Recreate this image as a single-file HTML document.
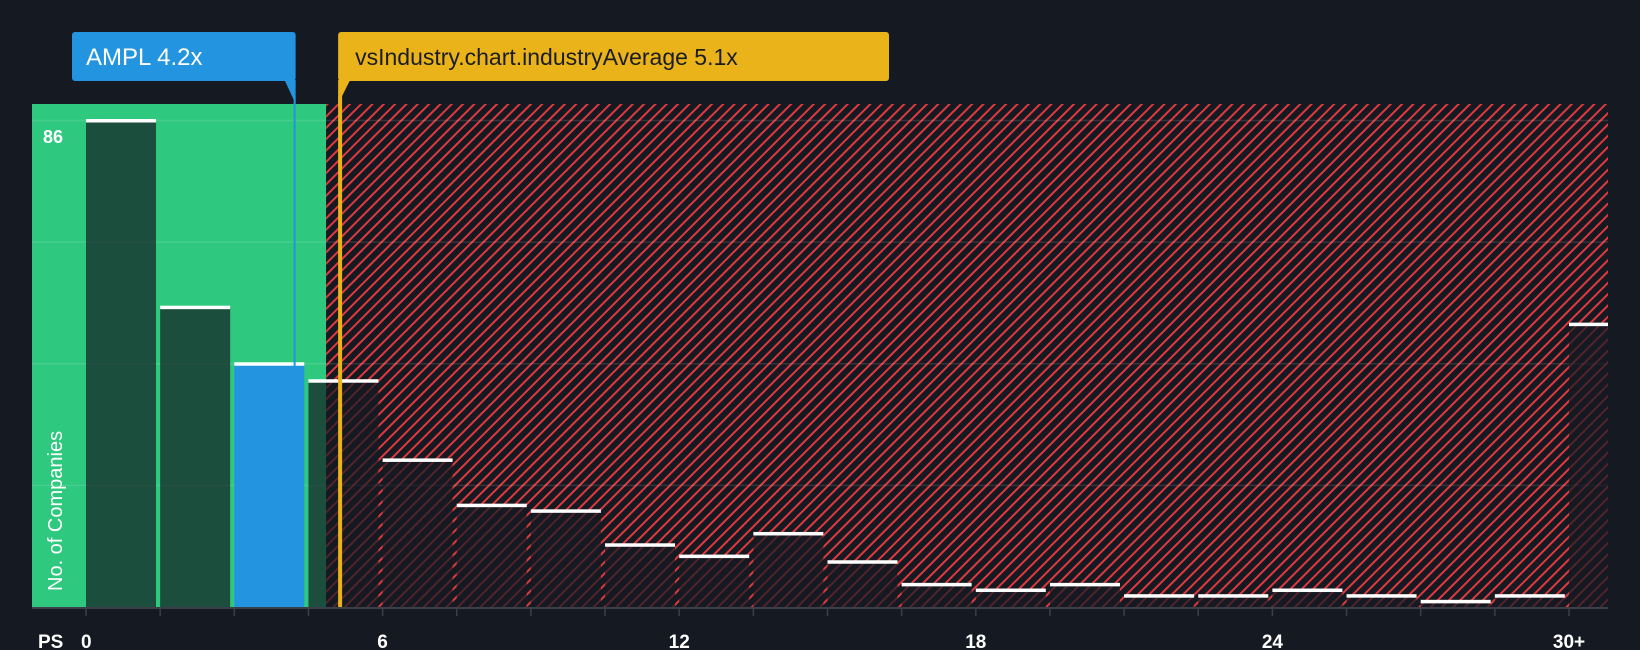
<!DOCTYPE html>
<html><head><meta charset="utf-8"><style>
html,body{margin:0;padding:0;background:#151a22;}
svg{display:block;font-family:"Liberation Sans",sans-serif;}
</style></head><body>
<svg id="chart" width="1640" height="650" viewBox="0 0 1640 650" xmlns="http://www.w3.org/2000/svg">
<defs>
<pattern id="hatch" patternUnits="userSpaceOnUse" width="8" height="8" patternTransform="rotate(45)">
<rect width="8" height="8" fill="#151a22"/>
<rect x="0" y="0" width="2" height="8" fill="#e0393d"/>
</pattern>
</defs>
<rect width="1640" height="650" fill="#151a22"/>
<g id="plot"></g>
</svg>
<script>
const counts = [86, 53, 43, 40, 26, 18, 17, 11, 9, 13, 8, 4, 3, 4, 2, 2, 3, 2, 1, 2, 50];
const tickLabels = ["0", "6", "12", "18", "24", "30+"];
const tickBins = [0, 4, 8, 12, 16, 20];
const companyValue = 4.2;
const industryValue = 5.1;
const highlightBin = 2;

const NS = "http://www.w3.org/2000/svg";
const g = document.getElementById('plot');
const plotL = 32, plotR = 1608, plotT = 104, base = 607;
const x0 = 86, binW = 74.15, barW = 70;
const yMax = 86, yTopPx = 120.5;
const yScale = v => base - v * (base - yTopPx) / yMax;
const xBin = i => x0 + i * binW;
const xVal = v => x0 + (v / 1.5) * binW;
function mk(tag, attrs, parent) {
  const e = document.createElementNS(NS, tag);
  for (const k in attrs) e.setAttribute(k, attrs[k]);
  (parent || g).appendChild(e);
  return e;
}
const ix = xVal(industryValue) + 2;
const cx = xVal(companyValue) + 1;
const greenEnd = ix - 14;
let e;
e = mk('rect', {x: plotL, y: plotT, width: greenEnd - plotL, height: base - plotT, fill: '#2ec87e'});


e = mk('rect', {x: greenEnd, y: plotT, width: plotR - greenEnd, height: base - plotT, fill: 'url(#hatch)'});


for (let k = 1; k <= 4; k++) {
  const gy = yScale(yMax * k / 4);
  e = mk('line', {x1: plotL, x2: plotR, y1: gy, y2: gy, stroke: 'rgba(255,255,255,0.12)', 'stroke-width': 1.5});
  
  
}
counts.forEach((c, i) => {
  const bx = xBin(i);
  const w = i === counts.length - 1 ? plotR - bx : barW;
  const top = yScale(c);
  e = mk('rect', {x: bx, y: top, width: w, height: base - top, fill: i === highlightBin ? '#2394e0' : 'rgba(21,26,34,0.7)'});
  
  
  e = mk('rect', {x: bx, y: top - 1.5, width: w, height: 3.5, fill: '#ffffff'});
  
  
});
e = mk('line', {x1: plotL, x2: plotR, y1: base + 1, y2: base + 1, stroke: '#3a3f48', 'stroke-width': 2});


for (let i = 0; i <= 20; i++) {
  e = mk('line', {x1: xBin(i), x2: xBin(i), y1: base, y2: base + 9, stroke: '#3a3f48', 'stroke-width': 1.5});
  
  
}
tickLabels.forEach((t, j) => {
  e = mk('text', {x: xBin(tickBins[j]), y: 648, 'text-anchor': t === '0' ? 'start' : 'middle', fill: '#ffffff', 'font-size': 19, 'font-weight': 'bold'});
  if (t === '0') e.setAttribute('x', xBin(tickBins[j]) - 5);
  e.textContent = t;
  
  
});
e = mk('text', {x: 38, y: 648, fill: '#ffffff', 'font-size': 19, 'font-weight': 'bold'});
e.textContent = 'PS';


e = mk('text', {x: 43, y: 143, fill: '#ffffff', 'font-size': 18, 'font-weight': 'bold'});
e.textContent = String(yMax);


e = mk('text', {x: 0, y: 0, fill: '#ffffff', 'font-size': 20, transform: 'translate(62,591) rotate(-90)'});
e.textContent = 'No. of Companies';


// company marker
e = mk('line', {x1: cx, x2: cx, y1: 96, y2: base, stroke: '#2394e0', 'stroke-width': 2});


e = mk('path', {d: `M${cx-10} 80 L${cx+1} 80 L${cx+1} 104 Z`, fill: '#2394e0'});


e = mk('rect', {x: 72, y: 32, width: cx + 1 - 72, height: 49, rx: 3, fill: '#2394e0'});


e = mk('text', {x: 86, y: 65, fill: '#ffffff', 'font-size': 24});
e.textContent = 'AMPL ' + companyValue + 'x';


// industry marker
e = mk('line', {x1: ix, x2: ix, y1: 96, y2: base, stroke: '#ebb31a', 'stroke-width': 4});


e = mk('path', {d: `M${ix-2} 80 L${ix+10} 80 L${ix-2} 104 Z`, fill: '#ebb31a'});


e = mk('rect', {x: ix - 2, y: 32, width: 891 - ix, height: 49, rx: 3, fill: '#ebb31a'});


e = mk('text', {x: ix + 15, y: 65, fill: '#1a1d24', 'font-size': 23});
e.textContent = 'vsIndustry.chart.industryAverage ' + industryValue + 'x';


</script>
</body></html>
